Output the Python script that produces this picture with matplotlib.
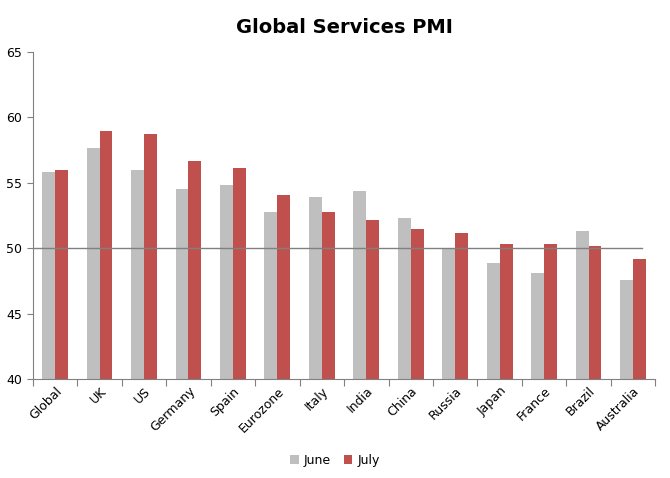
import matplotlib
matplotlib.use("Agg")
import matplotlib.pyplot as plt
import numpy as np

# Data
countries = ["Global", "UK", "US", "Germany", "Spain", "Eurozone", "Italy",
             "India", "China", "Russia", "Japan", "France", "Brazil", "Australia"]
june = [55.8, 57.7, 56.0, 54.5, 54.8, 52.8, 53.9, 54.4, 52.3, 50.0, 48.9, 48.1, 51.3, 47.6]
july = [56.0, 59.0, 58.7, 56.7, 56.1, 54.1, 52.8, 52.2, 51.5, 51.2, 50.3, 50.3, 50.2, 49.2]

fig = plt.figure(figsize=(6.7, 4.78), dpi=100)
ax = fig.add_axes([0.049, 0.207, 0.929, 0.684])

x = np.arange(len(countries))
w = 0.29
ax.bar(x - w / 2, june, w, color="#BFBFBF", label="June", zorder=2)
ax.bar(x + w / 2, july, w, color="#C0504D", label="July", zorder=2)

# 50 line
ax.plot([-0.5, len(countries) - 0.8], [50, 50], color="#808080", lw=1, zorder=3)

ax.set_xlim(-0.5, len(countries) - 0.5)
ax.set_ylim(40, 65)
ax.set_yticks([40, 45, 50, 55, 60, 65])
ax.set_xticks(np.arange(-0.5, len(countries), 1), minor=False)
ax.set_xticklabels([])
ax.set_xticks(x, minor=True)
ax.set_xticklabels(countries, minor=True, rotation=45, ha="right",
                   rotation_mode="anchor", fontsize=9)
ax.tick_params(axis="x", which="minor", length=0, pad=4)
ax.tick_params(axis="x", which="major", length=5, color="#808080", direction="out")
ax.tick_params(axis="y", length=4, color="#808080", labelsize=9)

for s in ["top", "right"]:
    ax.spines[s].set_visible(False)
for s in ["left", "bottom"]:
    ax.spines[s].set_color("#808080")

ax.set_title("Global Services PMI", fontsize=14, fontweight="bold", pad=14)

fig.legend(loc="lower center", ncol=2, frameon=False, fontsize=9,
           bbox_to_anchor=(0.5, 0.0), handlelength=0.7, handleheight=0.7,
           handletextpad=0.4, columnspacing=1.0)

fig.savefig("out.png", dpi=100)
